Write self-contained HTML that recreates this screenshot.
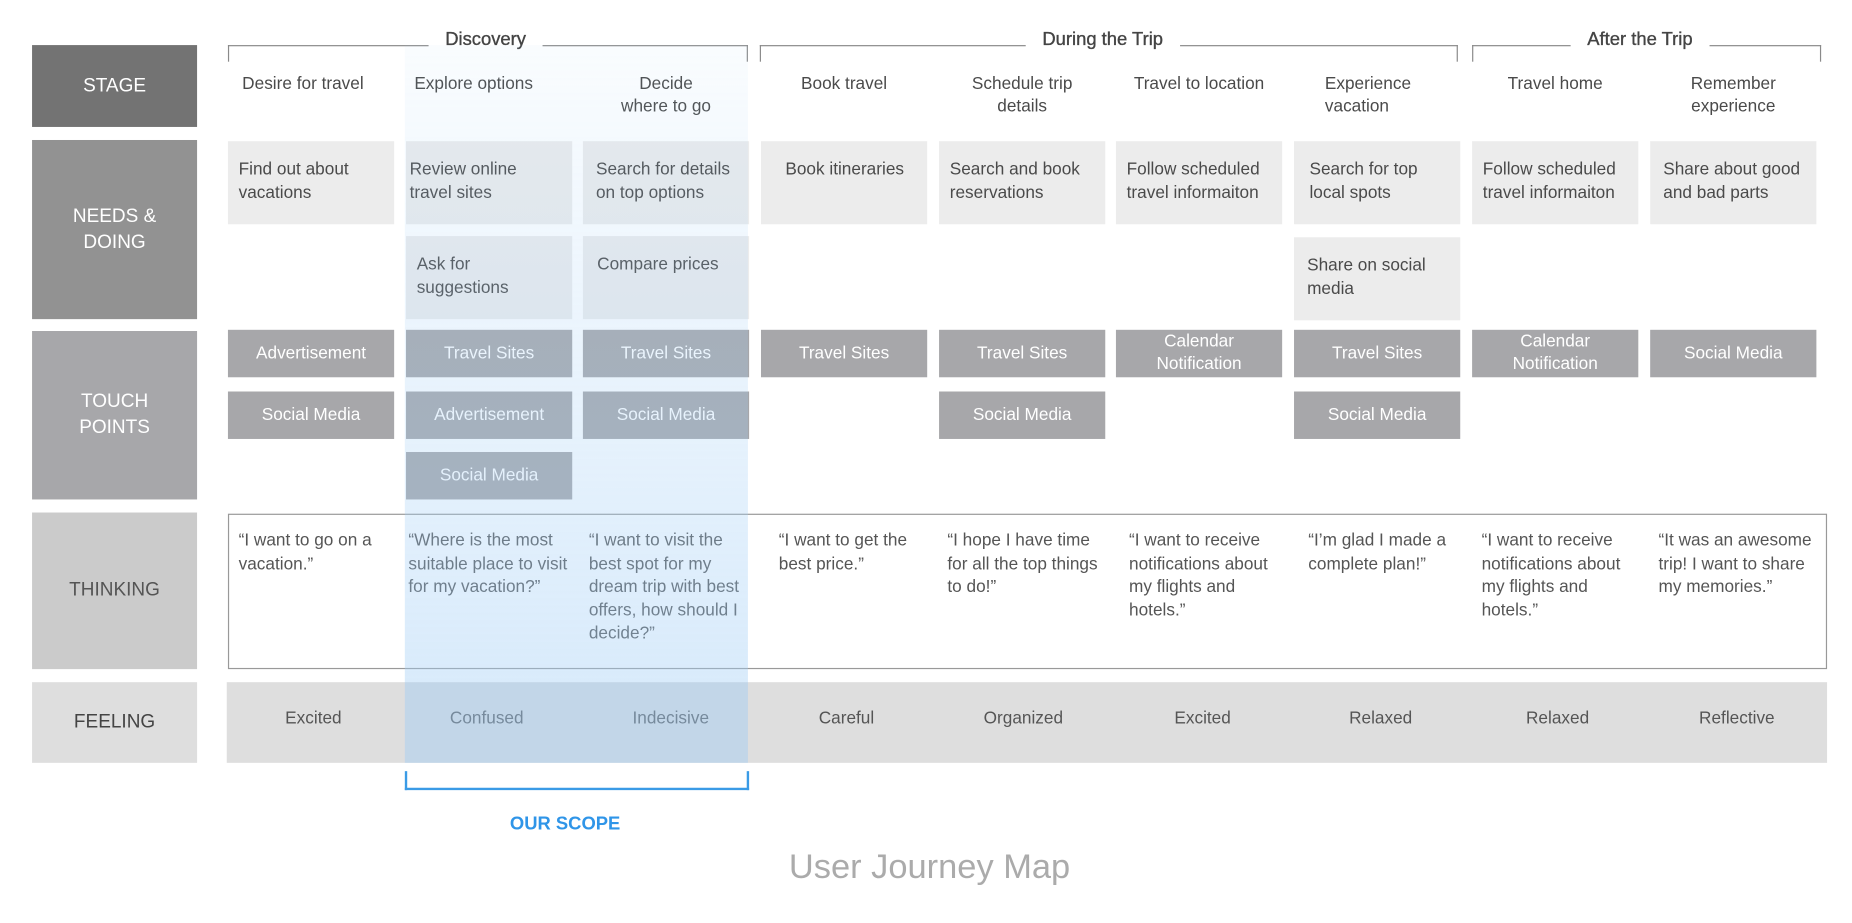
<!DOCTYPE html>
<html><head><meta charset="utf-8"><style>
html,body{margin:0;padding:0;background:#fff;overflow:hidden}
#wrap{position:relative;width:1560px;height:778px;transform:scale(1.18718,1.18638);transform-origin:0 0;font-family:"Liberation Sans",sans-serif;color:#4a4a4a}
.a{position:absolute;box-sizing:border-box}
.lab{color:#fff;font-size:16px;text-align:center;display:flex;align-items:center;justify-content:center;line-height:22px}
.st{font-size:14.5px;line-height:19px;color:#4a4a4a;text-align:center;width:140px}
.nd{background:#ececec;font-size:14.5px;line-height:20px;padding:14px 8px 0 9px;width:140px;height:70px;color:#4a4a4a}
.tp{background:#a7a7aa;color:#fff;font-size:14.5px;line-height:19px;width:140px;height:40px;display:flex;align-items:center;justify-content:center;text-align:center}
.th{font-size:14.5px;line-height:19.5px;width:142px;color:#555}
.fe{font-size:14.5px;width:150px;text-align:center;top:598px;color:#555}
.br{border:1.3px solid #8a8a8a;border-bottom:none;height:14px;top:38px}
.bt{top:25px;font-size:15.5px;font-weight:bold;color:#444;background:#fff;padding:0 14px;font-weight:normal;-webkit-text-stroke:0.3px #444}
</style></head><body><div id="wrap">

<div class="a lab" style="left:27px;top:38px;width:139px;height:69px;background:#737373">STAGE</div>
<div class="a lab" style="left:27px;top:118px;width:139px;height:151px;background:#929292">NEEDS &amp;<br>DOING</div>
<div class="a lab" style="left:27px;top:279px;width:139px;height:142px;background:#a7a7aa">TOUCH<br>POINTS</div>
<div class="a lab" style="left:27px;top:432px;width:139px;height:132px;background:#cbcbcb;color:#555">THINKING</div>
<div class="a lab" style="left:27px;top:575px;width:139px;height:68px;background:#dedede;color:#444">FEELING</div>

<!-- brackets -->
<div class="a br" style="left:192px;width:438px"></div>
<div class="a br" style="left:640px;width:588px"></div>
<div class="a br" style="left:1240px;width:294px"></div>
<div class="a bt" style="left:361px">Discovery</div>
<div class="a bt" style="left:864px">During the Trip</div>
<div class="a bt" style="left:1323px">After the Trip</div>

<!-- stage -->
<div class="a st" style="left:192px;top:62px;text-align:left;padding-left:12px">Desire for travel</div>
<div class="a st" style="left:342px;top:62px;text-align:left;padding-left:7px">Explore options</div>
<div class="a st" style="left:491px;top:62px">Decide<br>where to go</div>
<div class="a st" style="left:641px;top:62px">Book travel</div>
<div class="a st" style="left:791px;top:62px">Schedule trip<br>details</div>
<div class="a st" style="left:940px;top:62px">Travel to location</div>
<div class="a st" style="left:1090px;top:62px;text-align:left;padding-left:26px">Experience<br>vacation</div>
<div class="a st" style="left:1240px;top:62px">Travel home</div>
<div class="a st" style="left:1390px;top:62px">Remember<br>experience</div>

<!-- needs -->
<div class="a nd" style="left:192px;top:119px">Find out about vacations</div>
<div class="a nd" style="left:342px;top:119px;padding-left:3px">Review online travel sites</div>
<div class="a nd" style="left:491px;top:119px;padding-left:11px">Search for details on top options</div>
<div class="a nd" style="left:641px;top:119px;text-align:center">Book itineraries</div>
<div class="a nd" style="left:791px;top:119px">Search and book reservations</div>
<div class="a nd" style="left:940px;top:119px">Follow scheduled travel informaiton</div>
<div class="a nd" style="left:1090px;top:119px;padding-left:13px">Search for top local spots</div>
<div class="a nd" style="left:1240px;top:119px">Follow scheduled travel informaiton</div>
<div class="a nd" style="left:1390px;top:119px;padding-left:11px">Share about good and bad parts</div>
<div class="a nd" style="left:342px;top:199px;padding-left:9px">Ask for suggestions</div>
<div class="a nd" style="left:491px;top:199px;padding-left:12px">Compare prices</div>
<div class="a nd" style="left:1090px;top:200px;padding-left:11px">Share on social media</div>

<!-- touch -->
<div class="a tp" style="left:192px;top:278px">Advertisement</div>
<div class="a tp" style="left:192px;top:330px">Social Media</div>
<div class="a tp" style="left:342px;top:278px">Travel Sites</div>
<div class="a tp" style="left:342px;top:330px">Advertisement</div>
<div class="a tp" style="left:342px;top:381px">Social Media</div>
<div class="a tp" style="left:491px;top:278px">Travel Sites</div>
<div class="a tp" style="left:491px;top:330px">Social Media</div>
<div class="a tp" style="left:641px;top:278px">Travel Sites</div>
<div class="a tp" style="left:791px;top:278px">Travel Sites</div>
<div class="a tp" style="left:791px;top:330px">Social Media</div>
<div class="a tp" style="left:940px;top:278px">Calendar<br>Notification</div>
<div class="a tp" style="left:1090px;top:278px">Travel Sites</div>
<div class="a tp" style="left:1090px;top:330px">Social Media</div>
<div class="a tp" style="left:1240px;top:278px">Calendar<br>Notification</div>
<div class="a tp" style="left:1390px;top:278px">Social Media</div>

<!-- thinking -->
<div class="a" style="left:192px;top:433px;width:1347px;height:131px;border:1.3px solid #999"></div>
<div class="a th" style="left:201px;top:447px">“I want to go on a vacation.”</div>
<div class="a th" style="left:344px;top:447px">“Where is the most suitable place to visit for my vacation?”</div>
<div class="a th" style="left:496px;top:447px">“I want to visit the best spot for my dream trip with best offers, how should I decide?”</div>
<div class="a th" style="left:656px;top:447px;width:130px">“I want to get the best price.”</div>
<div class="a th" style="left:798px;top:447px;width:135px">“I hope I have time for all the top things to do!”</div>
<div class="a th" style="left:951px;top:447px;width:130px">“I want to receive notifications about my flights and hotels.”</div>
<div class="a th" style="left:1102px;top:447px;width:130px">“I’m glad I made a complete plan!”</div>
<div class="a th" style="left:1248px;top:447px;width:130px">“I want to receive notifications about my flights and hotels.”</div>
<div class="a th" style="left:1397px;top:447px;width:140px">“It was an awesome trip! I want to share my memories.”</div>

<!-- feeling -->
<div class="a" style="left:191px;top:575px;width:1348px;height:68px;background:#dedede"></div>
<div class="a fe" style="left:189px">Excited</div>
<div class="a fe" style="left:335px">Confused</div>
<div class="a fe" style="left:490px">Indecisive</div>
<div class="a fe" style="left:638px">Careful</div>
<div class="a fe" style="left:787px">Organized</div>
<div class="a fe" style="left:938px">Excited</div>
<div class="a fe" style="left:1088px">Relaxed</div>
<div class="a fe" style="left:1237px">Relaxed</div>
<div class="a fe" style="left:1388px">Reflective</div>

<!-- overlay -->
<div class="a" style="left:341px;top:38px;width:289px;height:537px;background:linear-gradient(to bottom,rgba(160,205,245,0.06),rgba(160,205,245,0.4))"></div>
<div class="a" style="left:341px;top:575px;width:289px;height:68px;background:rgba(160,205,245,0.45)"></div>

<!-- scope -->
<div class="a" style="left:341px;top:650px;width:290px;height:16px;border:2px solid #3a9be6;border-top:none"></div>
<div class="a" style="left:376px;top:686px;width:200px;text-align:center;color:#2f95e8;font-size:15.5px;font-weight:bold">OUR SCOPE</div>
<div class="a" style="left:583px;top:715px;width:400px;text-align:center;color:#ababab;font-size:29px">User Journey Map</div>

</div></body></html>
